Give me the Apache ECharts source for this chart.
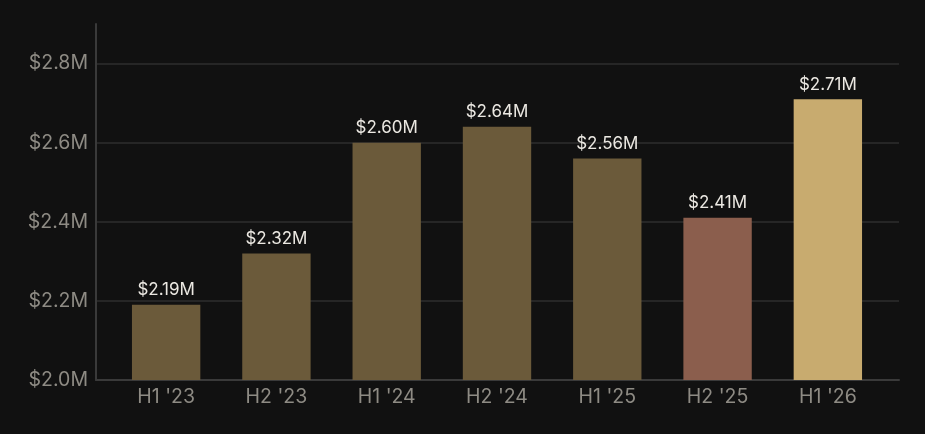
<!DOCTYPE html>
<html>
<head>
<meta charset="utf-8">
<script src="https://cdn.jsdelivr.net/npm/echarts@6/dist/echarts.min.js"></script>
<style>
  html, body { margin: 0; padding: 0; background: #111111; }
  #chart { width: 925px; height: 434px; }
</style>
</head>
<body>
<div id="chart"></div>
<script>
	var periods = ["H1 '23", "H2 '23", "H1 '24", "H2 '24", "H1 '25", "H2 '25", "H1 '26"];
	var revenue = [2.19, 2.32, 2.60, 2.64, 2.56, 2.41, 2.71];
	var barColors = ['#6b5a3a', '#6b5a3a', '#6b5a3a', '#6b5a3a', '#6b5a3a', '#8b5e4d', '#c8ab6f'];

	var font = 'Inter, "Noto Sans", sans-serif';

	var chart = echarts.init(document.getElementById('chart'));
	var option = {
		backgroundColor: '#111111',
		animation: false,
		grid: [
			// frame: y axis, split lines, x axis line
			{ left: 96, right: 26, top: 24, bottom: 54 },
			// bars sit a little inside the frame
			{ left: 111, right: 42, top: 24, bottom: 54 }
		],
		xAxis: [{
			gridIndex: 0,
			type: 'value',
			min: 0,
			max: 1,
			axisLine: { show: true, onZero: false, lineStyle: { color: '#3a3a3a', width: 2 } },
			axisTick: { show: false },
			axisLabel: { show: false },
			splitLine: { show: false }
		}, {
			gridIndex: 1,
			type: 'category',
			data: periods,
			axisLine: { show: false },
			axisTick: { show: false },
			axisLabel: {
				color: '#8e8b84',
				fontSize: 19.5,
				fontFamily: font,
				margin: 7
			}
		}],
		yAxis: [{
			gridIndex: 0,
			type: 'value',
			min: 2.0,
			max: 2.9,
			interval: 0.2,
			axisLine: { show: true, lineStyle: { color: '#3a3a3a', width: 2 } },
			axisTick: { show: false },
			axisLabel: {
				color: '#8e8b84',
				fontSize: 19.5,
				fontFamily: font,
				margin: 8,
				padding: [5, 0, 0, 0],
				showMaxLabel: false,
				formatter: function(v) { return '$' + v.toFixed(1) + 'M'; }
			},
			splitLine: {
				show: true,
				showMaxLine: false,
				lineStyle: { color: '#262626', width: 2 }
			}
		}, {
			gridIndex: 1,
			type: 'value',
			min: 2.0,
			max: 2.9,
			show: false
		}],
		series: [{
			type: 'bar',
			xAxisIndex: 1,
			yAxisIndex: 1,
			barWidth: '62%',
			data: revenue.map(function(v, i) {
				return { value: v, itemStyle: { color: barColors[i] } };
			}),
			label: {
				show: true,
				position: 'top',
				distance: 6,
				color: '#ebe8e2',
				fontSize: 17,
				fontFamily: font,
				formatter: function(p) { return '$' + p.value.toFixed(2) + 'M'; }
			}
		}]
	};
	chart.setOption(option);
</script>
</body>
</html>
